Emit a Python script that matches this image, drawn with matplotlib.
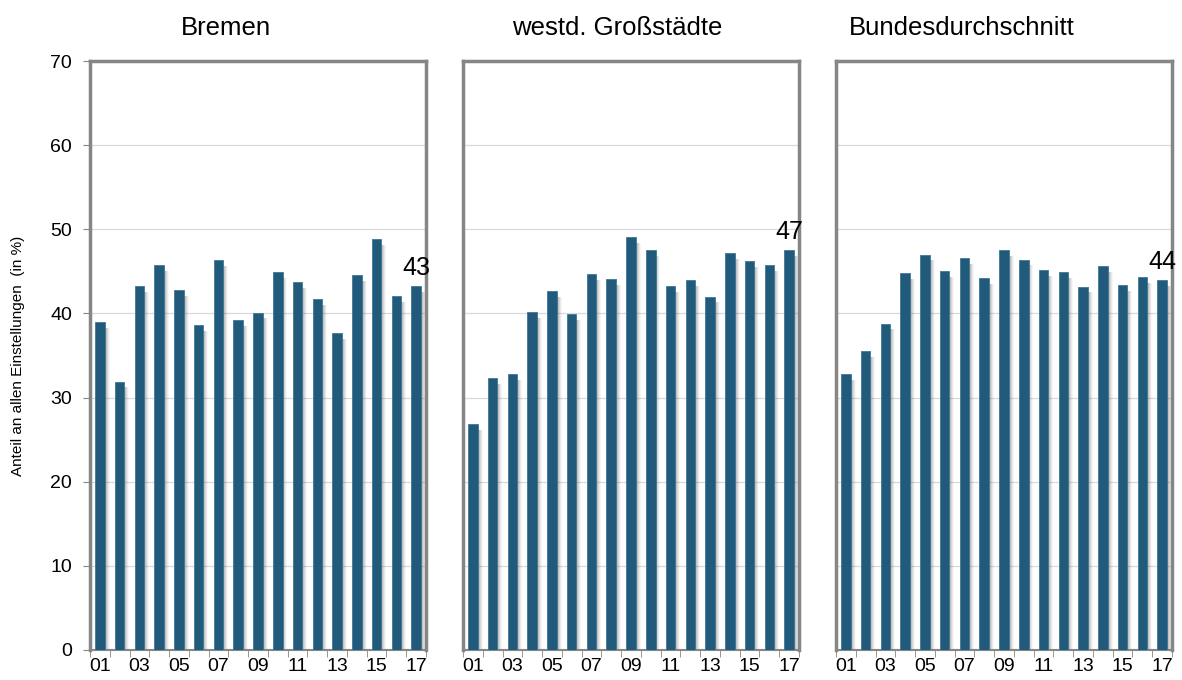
import matplotlib
matplotlib.use("Agg")
from matplotlib import pyplot as plt
import numpy as np

plt.rcParams['font.family'] = ['Liberation Sans', 'DejaVu Sans']

years = ['01', '02', '03', '04', '05', '06', '07', '08', '09', '10',
         '11', '12', '13', '14', '15', '16', '17']
bremen = [39.0, 31.9, 43.3, 45.7, 42.8, 38.6, 46.3, 39.2, 40.1, 44.9,
          43.7, 41.7, 37.7, 44.6, 48.8, 42.1, 43.3]
westd = [26.9, 32.3, 32.8, 40.2, 42.7, 39.9, 44.7, 44.1, 49.1, 47.5,
         43.3, 44.0, 42.0, 47.2, 46.2, 45.8, 47.5]
bund = [32.8, 35.5, 38.8, 44.8, 47.0, 45.0, 46.6, 44.2, 47.5, 46.4,
        45.2, 44.9, 43.2, 45.6, 43.4, 44.3, 44.0]

titles = ['Bremen', 'westd. Großstädte', 'Bundesdurchschnitt']
series = [bremen, westd, bund]
end_labels = ['43', '47', '44']
title_x = [226, 617, 962]

bar_color = '#225a7b'
frame_color = '#868686'

W, H = 1182, 680
fig = plt.figure(figsize=(W / 100, H / 100), dpi=100)

lefts = [90, 463, 836]
x = np.arange(len(years))

for i, (vals, name, lab) in enumerate(zip(series, titles, end_labels)):
    ax = fig.add_axes([lefts[i] / W, 30 / H, 336 / W, 589 / H])
    # soft shadow to the right of each bar
    for k, a in enumerate([0.16, 0.13, 0.10, 0.07, 0.04]):
        ax.bar(x + 0.05 + 0.05 * k, np.array(vals) - 0.7, width=0.48,
               color='#3a3a3a', alpha=a, zorder=2, linewidth=0)
    ax.bar(x, vals, width=0.48, color=bar_color, zorder=3,
           edgecolor='#3d7896', linewidth=0.6)
    ax.set_xlim(-0.5, len(years) - 0.5)
    ax.set_ylim(0, 70)
    ax.set_yticks(np.arange(0, 71, 10))
    ax.yaxis.grid(True, color='#d9d9d9', linewidth=0.9, zorder=0)
    ax.set_axisbelow(True)
    ax.set_xticks(x[::2])
    ax.set_xticklabels(years[::2], fontsize=14)
    ax.set_xticks(np.arange(-0.5, len(years)), minor=True)
    ax.tick_params(axis='x', which='major', length=0, pad=6)
    ax.tick_params(axis='x', which='minor', length=5, color=frame_color,
                   direction='out')
    for s in ax.spines.values():
        s.set_color(frame_color)
        s.set_linewidth(2.5)
    ax.spines['bottom'].set_linewidth(1.5)
    if i == 0:
        ax.set_yticklabels([str(v) for v in range(0, 71, 10)], fontsize=14)
        ax.tick_params(axis='y', length=5, color=frame_color, pad=8)
        ax.set_ylabel('Anteil an allen Einstellungen  (in %)', fontsize=11,
                      labelpad=18)
    else:
        ax.tick_params(axis='y', length=0, labelleft=False)
    ax.text(x[-1], vals[-1] + 0.7, lab, ha='center', va='bottom',
            fontsize=18, zorder=5)
    fig.text(title_x[i] / W, 1 - 28 / H, name, ha='center', va='center',
             fontsize=18.5)

fig.savefig('out.png', dpi=100)
